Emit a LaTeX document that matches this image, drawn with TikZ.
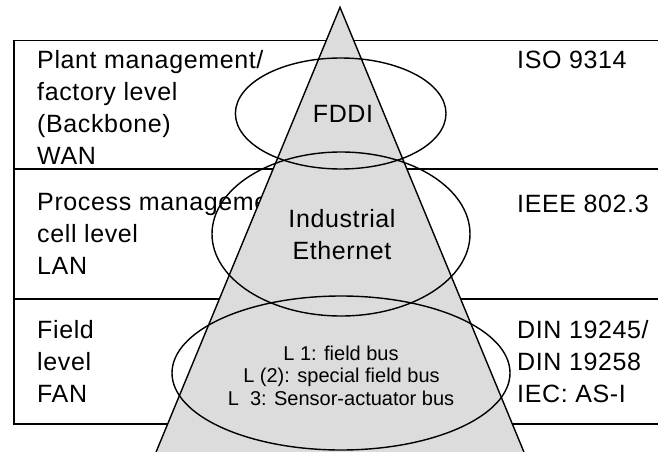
\documentclass[tikz,border=0pt]{standalone}
\usepackage{fontspec}
\setmainfont{Liberation Sans}
\definecolor{pyramid}{RGB}{220,220,220}
\begin{document}
\begin{tikzpicture}[x=1pt,y=-1pt,
  rule/.style={line width=1.6pt},
  edge/.style={line width=1.4pt},
  big/.style={font=\fontsize{25}{32}\selectfont\addfontfeatures{LetterSpace=2.5}, inner sep=0pt},
  small/.style={font=\fontsize{20}{22.5}\selectfont, inner sep=0pt}]
\useasboundingbox (0,0) rectangle (658,452);

% level table (open to the right)
\draw[rule] (672,40.7) -- (14,40.7) -- (14,423.7) -- (672,423.7);
\draw[rule] (14,169) -- (672,169);
\draw[rule] (14,298.7) -- (672,298.7);

% left column (set before the pyramid, which covers its overhang)
\node[big, anchor=base west] (p1) at (37,68) {Plant management/};
\node[big, anchor=base west] (p2) at (37,100) {factory level};
\node[big, anchor=base west] (p3) at (37,132) {(Backbone)};
\node[big, anchor=base west] (p4) at (37,164) {WAN};
\node[big, anchor=base west] (c1) at (37,210) {Process management/};
\node[big, anchor=base west] (c2) at (37,242) {cell level};
\node[big, anchor=base west] (c3) at (37,274) {LAN};
\node[big, anchor=base west] (f1) at (37,338) {Field};
\node[big, anchor=base west] (f2) at (37,370) {level};
\node[big, anchor=base west] (f3) at (37,402) {FAN};

% pyramid
\coordinate (apex) at (340,7.3);
\coordinate (bl) at (154,457);
\coordinate (br) at (526,457);
\filldraw[fill=pyramid, edge, line join=miter] (bl) -- (apex) -- (br);

% network rings
\draw[edge] (340.7,113.5) ellipse [x radius=105.3, y radius=55.5];
\draw[edge] (341,234) ellipse [x radius=129, y radius=82];
\draw[edge] (341,373) ellipse [x radius=169, y radius=77];

% right column
\node[big, anchor=base west] (s1) at (517,68) {ISO 9314};
\node[big, anchor=base west] (s2) at (517,212) {IEEE 802.3};
\node[big, anchor=base west] (s3) at (517,338) {DIN 19245/};
\node[big, anchor=base west] (s4) at (517,370) {DIN 19258};
\node[big, anchor=base west] (s5) at (517,402) {IEC: AS-I};

% pyramid labels
\node[big, anchor=base] (fddi) at (343,122.7) {FDDI};
\node[big, anchor=base] (ie1) at (342,227) {Industrial};
\node[big, anchor=base] (ie2) at (342,259) {Ethernet};
\node[small, anchor=base] (l1) at (341,360) {L 1: field bus};
\node[small, anchor=base] (l2) at (341.5,382.7) {L (2): special field bus};
\node[small, anchor=base] (l3) at (341,405) {L~~3: Sensor-actuator bus};
\end{tikzpicture}
\end{document}
